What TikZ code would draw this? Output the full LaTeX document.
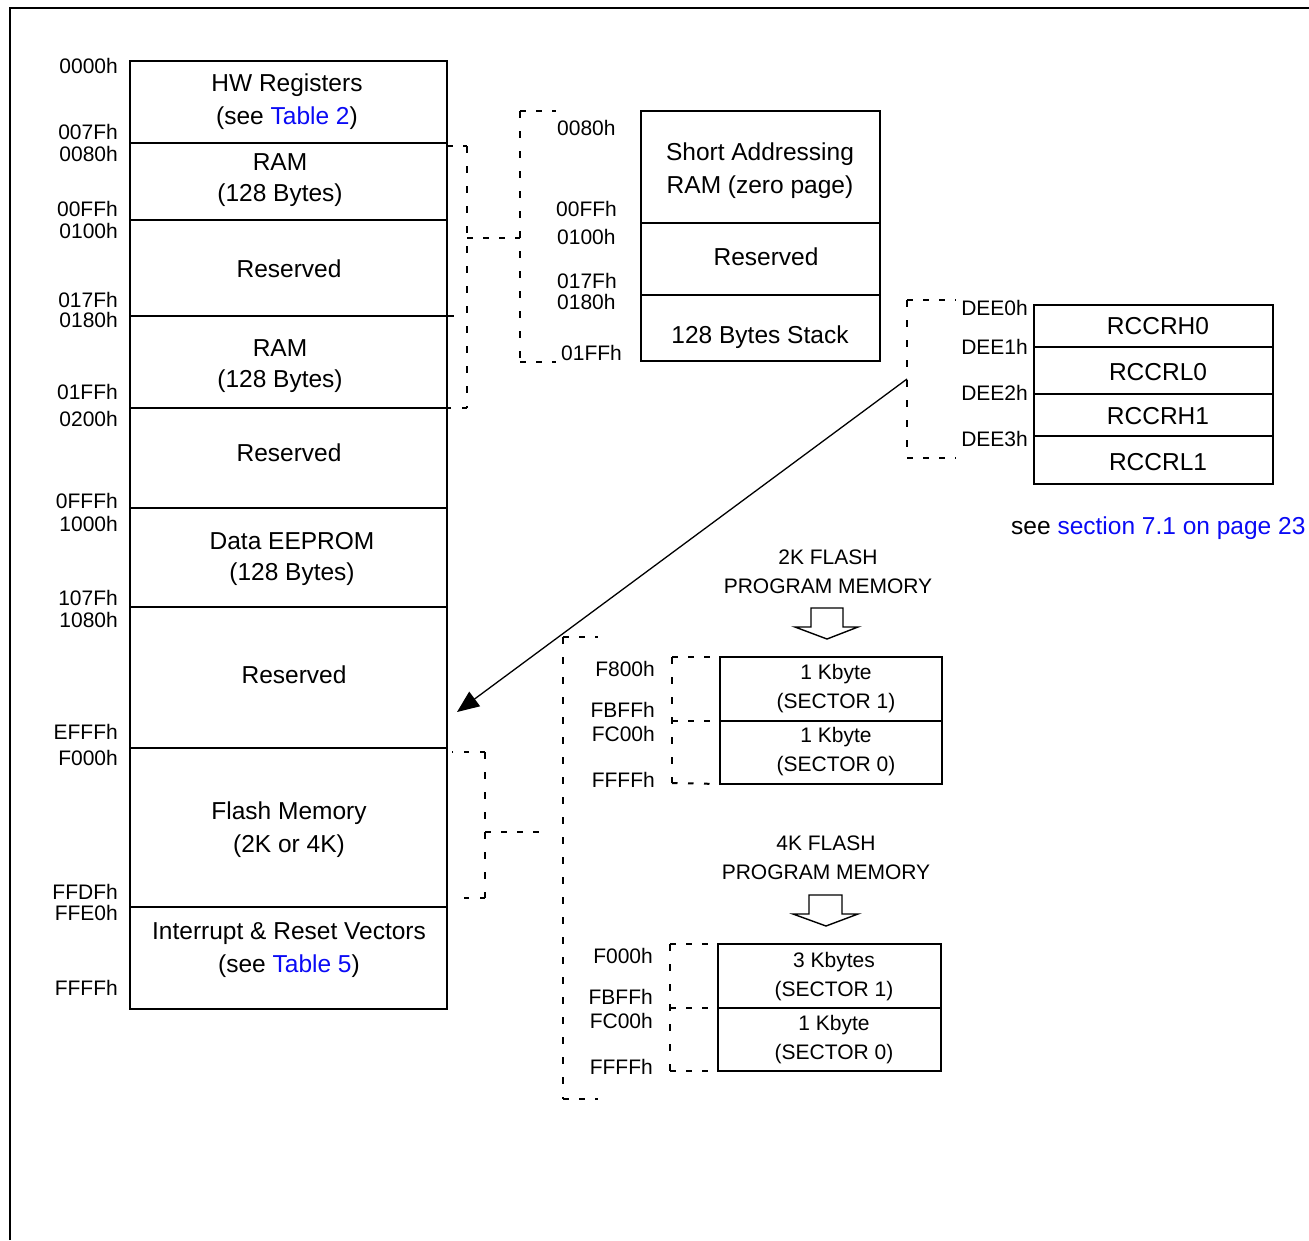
\documentclass[tikz,border=0pt]{standalone}
\usepackage{fontspec}
\setmainfont{Liberation Sans}
\usetikzlibrary{arrows.meta}
\definecolor{linkblue}{RGB}{10,10,245}
\tikzset{
  cell/.style={draw, line width=1.7pt, inner sep=0pt, outer sep=0pt},
  btxt/.style={font=\fontsize{24.5}{31}\selectfont, align=center, inner sep=0pt},
  btxtw/.style={font=\fontsize{24.5}{33}\selectfont, align=center, inner sep=0pt},
  addr/.style={font=\fontsize{21}{25}\selectfont, inner sep=0pt},
  stxt/.style={font=\fontsize{21}{29}\selectfont, align=center, inner sep=0pt},
  dh/.style={line width=2pt, dash pattern=on 5.5pt off 10.5pt},
  dv/.style={line width=2pt, dash pattern=on 7pt off 13pt},
  hollow/.style={draw, line width=1.4pt, fill=white, line join=miter},
}
\begin{document}
\begin{tikzpicture}[x=1pt,y=-1pt]
\useasboundingbox (0,0) rectangle (1309,1240);
% frame
\draw[line width=2pt] (10,1240) -- (10,8) -- (1309,8);

% ---------- main memory column ----------
\node[cell, minimum width=317pt, minimum height=82pt]  (hw)    at (288.5,102)   {};
\node[cell, minimum width=317pt, minimum height=77pt]  (ram1)  at (288.5,181.5) {};
\node[cell, minimum width=317pt, minimum height=96pt]  (res1)  at (288.5,268)   {};
\node[cell, minimum width=317pt, minimum height=92pt]  (ram2)  at (288.5,362)   {};
\node[cell, minimum width=317pt, minimum height=100pt] (res2)  at (288.5,458)   {};
\node[cell, minimum width=317pt, minimum height=99pt]  (eep)   at (288.5,557.5) {};
\node[cell, minimum width=317pt, minimum height=141pt] (res3)  at (288.5,677.5) {};
\node[cell, minimum width=317pt, minimum height=159pt] (flash) at (288.5,827.5) {};
\node[cell, minimum width=317pt, minimum height=102pt] (vec)   at (288.5,958)   {};
\draw[line width=1.7pt] (ram2.north east) -- ++(7,0);

\node[btxtw] (thw)   at (287,102)   {HW Registers\\(see \textcolor{linkblue}{Table 2})};
\node[btxt]  (tram1) at (280,180)   {RAM\\(128 Bytes)};
\node[btxt]  (tres1) at (289,269)   {Reserved};
\node[btxt]  (tram2) at (280,366.5) {RAM\\(128 Bytes)};
\node[btxt]  (tres2) at (289,453)   {Reserved};
\node[btxt]  (teep)  at (292,558.5) {Data EEPROM\\(128 Bytes)};
\node[btxt]  (tres3) at (294,675)   {Reserved};
\node[btxtw] (tfl)   at (289,830)   {Flash Memory\\(2K or 4K)};
\node[btxtw] (tvec)  at (289,950.5) {Interrupt \& Reset Vectors\\(see \textcolor{linkblue}{Table 5})};

% main addresses
\node[addr, anchor=east] (a0000) at (118,66)  {0000h};
\node[addr, anchor=east] (a007F) at (118,132) {007Fh};
\node[addr, anchor=east] (a0080) at (118,154) {0080h};
\node[addr, anchor=east] (a00FF) at (118,209) {00FFh};
\node[addr, anchor=east] (a0100) at (118,231) {0100h};
\node[addr, anchor=east] (a017F) at (118,300) {017Fh};
\node[addr, anchor=east] (a0180) at (118,320) {0180h};
\node[addr, anchor=east] (a01FF) at (118,392) {01FFh};
\node[addr, anchor=east] (a0200) at (118,419) {0200h};
\node[addr, anchor=east] (a0FFF) at (118,501) {0FFFh};
\node[addr, anchor=east] (a1000) at (118,524) {1000h};
\node[addr, anchor=east] (a107F) at (118,598) {107Fh};
\node[addr, anchor=east] (a1080) at (118,620) {1080h};
\node[addr, anchor=east] (aEFFF) at (118,732) {EFFFh};
\node[addr, anchor=east] (aF000) at (118,758) {F000h};
\node[addr, anchor=east] (aFFDF) at (118,892) {FFDFh};
\node[addr, anchor=east] (aFFE0) at (118,913) {FFE0h};
\node[addr, anchor=east] (aFFFF) at (118,988) {FFFFh};

% ---------- short addressing column ----------
\node[cell, minimum width=239pt, minimum height=112pt] (sar)  at (760.5,167) {};
\node[cell, minimum width=239pt, minimum height=72pt]  (sres) at (760.5,259) {};
\node[cell, minimum width=239pt, minimum height=66pt]  (stk)  at (760.5,328) {};
\node[btxtw] (tsar)  at (760,171)   {Short Addressing\\RAM (zero page)};
\node[btxt]  (tsres) at (766,257)   {Reserved};
\node[btxt]  (tstk)  at (760,337)   {128 Bytes Stack};

\node[addr, anchor=west] (b0080) at (557,128) {0080h};
\node[addr, anchor=west] (b00FF) at (556,209) {00FFh};
\node[addr, anchor=west] (b0100) at (557,237) {0100h};
\node[addr, anchor=west] (b017F) at (557,281) {017Fh};
\node[addr, anchor=west] (b0180) at (557,302) {0180h};
\node[addr, anchor=west] (b01FF) at (561,353) {01FFh};

% brackets main -> short
\coordinate (kA1) at (467,146);
\coordinate (kA2) at (467,408);
\coordinate (kAm) at (467,238);
\coordinate (kB1) at (556,111);
\coordinate (kB2) at (520,111);
\coordinate (kB3) at (520,362);
\coordinate (kB4) at (556,362);
\draw[dh] (kA1 -| ram1.east) -- (kA1);
\draw[dv] (kA1) -- (kA2);
\draw[dh] (kA2) -- (ram2.south east);
\draw[dh] (kAm) -- (kAm -| kB2);
\draw[dh] (kB2) -- (kB1);
\draw[dv] (kB2) -- (kB3);
\draw[dh] (kB3) -- (kB4);

% ---------- RCCR column ----------
\node[cell, minimum width=239pt, minimum height=42pt] (r0) at (1153.5,326)   {};
\node[cell, minimum width=239pt, minimum height=47pt] (r1) at (1153.5,370.5) {};
\node[cell, minimum width=239pt, minimum height=42pt] (r2) at (1153.5,415)   {};
\node[cell, minimum width=239pt, minimum height=48pt] (r3) at (1153.5,460)   {};
\node[btxt] (tr0) at (1158,326) {RCCRH0};
\node[btxt] (tr1) at (1158,372) {RCCRL0};
\node[btxt] (tr2) at (1158,416) {RCCRH1};
\node[btxt] (tr3) at (1158,462) {RCCRL1};
\node[addr, anchor=east] (dee0) at (1028,308) {DEE0h};
\node[addr, anchor=east] (dee1) at (1028,347) {DEE1h};
\node[addr, anchor=east] (dee2) at (1028,393) {DEE2h};
\node[addr, anchor=east] (dee3) at (1028,439) {DEE3h};
\node[btxt, anchor=west] (see) at (1011,528) {see \textcolor{linkblue}{section 7.1 on page 23}};

\coordinate (kC1) at (956,300);
\coordinate (kC2) at (907,300);
\coordinate (kC3) at (907,458);
\coordinate (kC4) at (956,458);
\draw[dh] (kC2) -- (kC1);
\draw[dv] (kC2) -- (kC3);
\draw[dh] (kC3) -- (kC4);

% diagonal arrow
\coordinate (arrstart) at (907,379);
\coordinate (arrtip) at (457,712);
\draw[line width=1.3pt, -{Triangle[length=22pt,width=18pt]}] (arrstart) -- (arrtip);

% ---------- flash program memory ----------
\node[stxt] (h2k) at (828,571.5) {2K FLASH\\PROGRAM MEMORY};
\draw[hollow] (811,608) -- (843,608) -- (843,627) -- (858,627) -- (827,639) -- (795,627) -- (811,627) -- cycle;

\node[cell, minimum width=222pt, minimum height=64pt] (s21) at (831,689)   {};
\node[cell, minimum width=222pt, minimum height=63pt] (s20) at (831,752.5) {};
\node[stxt] (ts21) at (836,689) {1 Kbyte\\(SECTOR 1)};
\node[stxt] (ts20) at (836,752) {1 Kbyte\\(SECTOR 0)};
\node[addr, anchor=east] (cF800) at (655,669) {F800h};
\node[addr, anchor=east] (cFBFF) at (655,710) {FBFFh};
\node[addr, anchor=east] (cFC00) at (655,734) {FC00h};
\node[addr, anchor=east] (cFFFF) at (655,780) {FFFFh};
\coordinate (kF1) at (672,657);
\coordinate (kF2) at (672,783);
\draw[dh] (kF1) -- (s21.north west);
\draw[dv] (kF1) -- (kF2);
\draw[dh] (kF2) -- (s20.south west);
\draw[dh] (kF1 |- s21.south west) -- (s21.south west);

\node[stxt] (h4k) at (826,857.5) {4K FLASH\\PROGRAM MEMORY};
\draw[hollow] (809,895) -- (842,895) -- (842,914) -- (858,914) -- (826,926) -- (793,914) -- (809,914) -- cycle;

\node[cell, minimum width=223pt, minimum height=64pt] (s41) at (829.5,976)    {};
\node[cell, minimum width=223pt, minimum height=63pt] (s40) at (829.5,1039.5) {};
\node[stxt] (ts41) at (834,976.5) {3 Kbytes\\(SECTOR 1)};
\node[stxt] (ts40) at (834,1040)  {1 Kbyte\\(SECTOR 0)};
\node[addr, anchor=east] (dF000) at (653,956)  {F000h};
\node[addr, anchor=east] (dFBFF) at (653,997)  {FBFFh};
\node[addr, anchor=east] (dFC00) at (653,1021) {FC00h};
\node[addr, anchor=east] (dFFFF) at (653,1067) {FFFFh};
\coordinate (kG1) at (670,944);
\coordinate (kG2) at (670,1071);
\draw[dh] (kG1) -- (s41.north west);
\draw[dv] (kG1) -- (kG2);
\draw[dh] (kG2) -- (s40.south west);
\draw[dh] (kG1 |- s41.south west) -- (s41.south west);

% brackets main flash -> program memory
\coordinate (kD1) at (452,752);
\coordinate (kD2) at (485,752);
\coordinate (kD3) at (485,898);
\coordinate (kD4) at (455,898);
\coordinate (kDm) at (485,832);
\coordinate (kDe) at (548,832);
\draw[dh] (kD2) -- (kD1);
\draw[dv] (kD2) -- (kD3);
\draw[dh] (kD3) -- (kD4);
\draw[dh] (kDm) -- (kDe);
\coordinate (kE1) at (598,637);
\coordinate (kE2) at (563,637);
\coordinate (kE3) at (563,1099);
\coordinate (kE4) at (598,1099);
\draw[dh] (kE2) -- (kE1);
\draw[dv] (kE2) -- (kE3);
\draw[dh] (kE3) -- (kE4);
\end{tikzpicture}
\end{document}
